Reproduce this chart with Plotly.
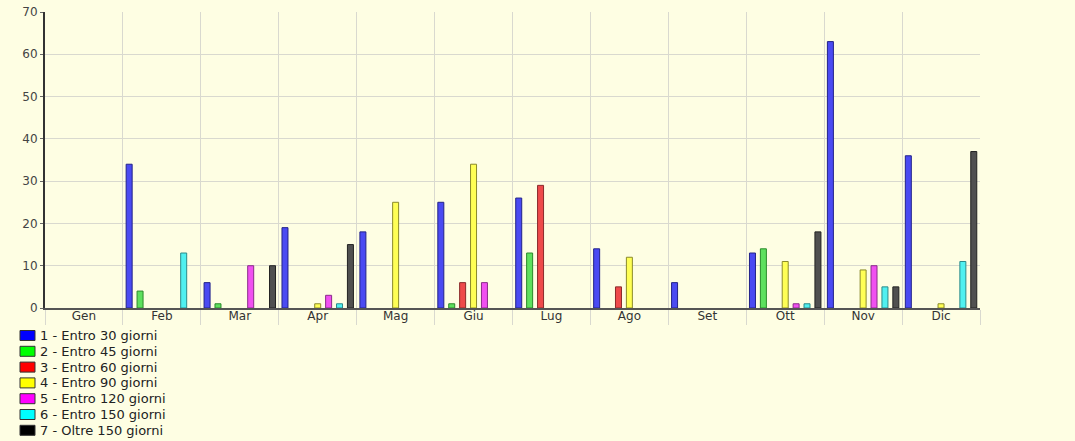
import plotly.graph_objects as go

months = ["Gen", "Feb", "Mar", "Apr", "Mag", "Giu", "Lug", "Ago", "Set", "Ott", "Nov", "Dic"]

series_names = [
    "1 - Entro 30 giorni",
    "2 - Entro 45 giorni",
    "3 - Entro 60 giorni",
    "4 - Entro 90 giorni",
    "5 - Entro 120 giorni",
    "6 - Entro 150 giorni",
    "7 - Oltre 150 giorni",
]

entro_30 = [0, 34, 6, 19, 18, 25, 26, 14, 6, 13, 63, 36]
entro_45 = [0, 4, 1, 0, 0, 1, 13, 0, 0, 14, 0, 0]
entro_60 = [0, 0, 0, 0, 0, 6, 29, 5, 0, 0, 0, 0]
entro_90 = [0, 0, 0, 1, 25, 34, 0, 12, 0, 11, 9, 1]
entro_120 = [0, 0, 10, 3, 0, 6, 0, 0, 0, 1, 10, 0]
entro_150 = [0, 13, 0, 1, 0, 0, 0, 0, 0, 1, 5, 11]
oltre_150 = [0, 0, 10, 15, 0, 0, 0, 0, 0, 18, 5, 37]

series_values = [entro_30, entro_45, entro_60, entro_90, entro_120, entro_150, oltre_150]

fill_colors = ["#4a4af2", "#5ee05e", "#ee4a4a", "#ffff55", "#f050f0", "#50f0f0", "#505050"]
line_colors = ["#22228a", "#2a8a2a", "#8a2a2a", "#8a8a2a", "#8a2a8a", "#2a8a8a", "#222222"]
legend_colors = ["#0000ff", "#00ff00", "#ff0000", "#ffff00", "#ff00ff", "#00ffff", "#000000"]

W, H = 1075, 441
ML, MR, MT, MB = 45, 95, 12, 133
PW, PH = W - ML - MR, H - MT - MB
BG = "#fefee3"
GRID = "#d9d9cf"
FONT = "DejaVu Sans"

fig = go.Figure()
for name, vals, fc, lc in zip(series_names, series_values, fill_colors, line_colors):
    fig.add_trace(go.Bar(
        x=months,
        y=[v if v else None for v in vals],
        name=name,
        marker=dict(color=fc, line=dict(color=lc, width=1)),
        showlegend=False,
    ))


def px_x(px):
    return (px - ML) / PW


def px_y(py):
    return (H - MB - py) / PH


# custom compact legend (below the plot area)
leg_x0, leg_y0, leg_dy = 20, 335.5, 15.8
for i, (name, col) in enumerate(zip(series_names, legend_colors)):
    yc = leg_y0 + i * leg_dy
    fig.add_shape(type="rect", xref="paper", yref="paper",
                  x0=px_x(leg_x0), x1=px_x(leg_x0 + 15),
                  y0=px_y(yc + 5), y1=px_y(yc - 5),
                  fillcolor=col, line=dict(color="#333333", width=1))
    fig.add_annotation(xref="paper", yref="paper", x=px_x(leg_x0 + 18), y=px_y(yc),
                       text=name, showarrow=False, xanchor="left", yanchor="middle",
                       font=dict(family=FONT, size=13, color="#222222"))

fig.update_layout(
    width=W, height=H,
    margin=dict(l=ML, r=MR, t=MT, b=MB, autoexpand=False),
    paper_bgcolor=BG, plot_bgcolor=BG,
    barmode="group", bargap=0.02, bargroupgap=0.45,
    font=dict(family=FONT, size=12, color="#333333"),
    showlegend=False,
)
fig.update_xaxes(
    type="category", tickson="boundaries", showgrid=True, gridcolor=GRID, gridwidth=1,
    ticks="outside", ticklen=15, tickcolor=GRID, ticklabelstandoff=-4,
    showline=True, linecolor="#555555", linewidth=2, automargin=False,
    tickfont=dict(family=FONT, size=12, color="#333333"),
)
fig.update_yaxes(
    range=[0, 70], dtick=10, showgrid=True, gridcolor=GRID, gridwidth=1,
    ticks="outside", ticklen=3, tickcolor="#666666",
    showline=True, linecolor="#333333", linewidth=2, zeroline=False, automargin=False,
    tickfont=dict(family=FONT, size=12, color="#444444"),
)

fig.write_html("out.html")
